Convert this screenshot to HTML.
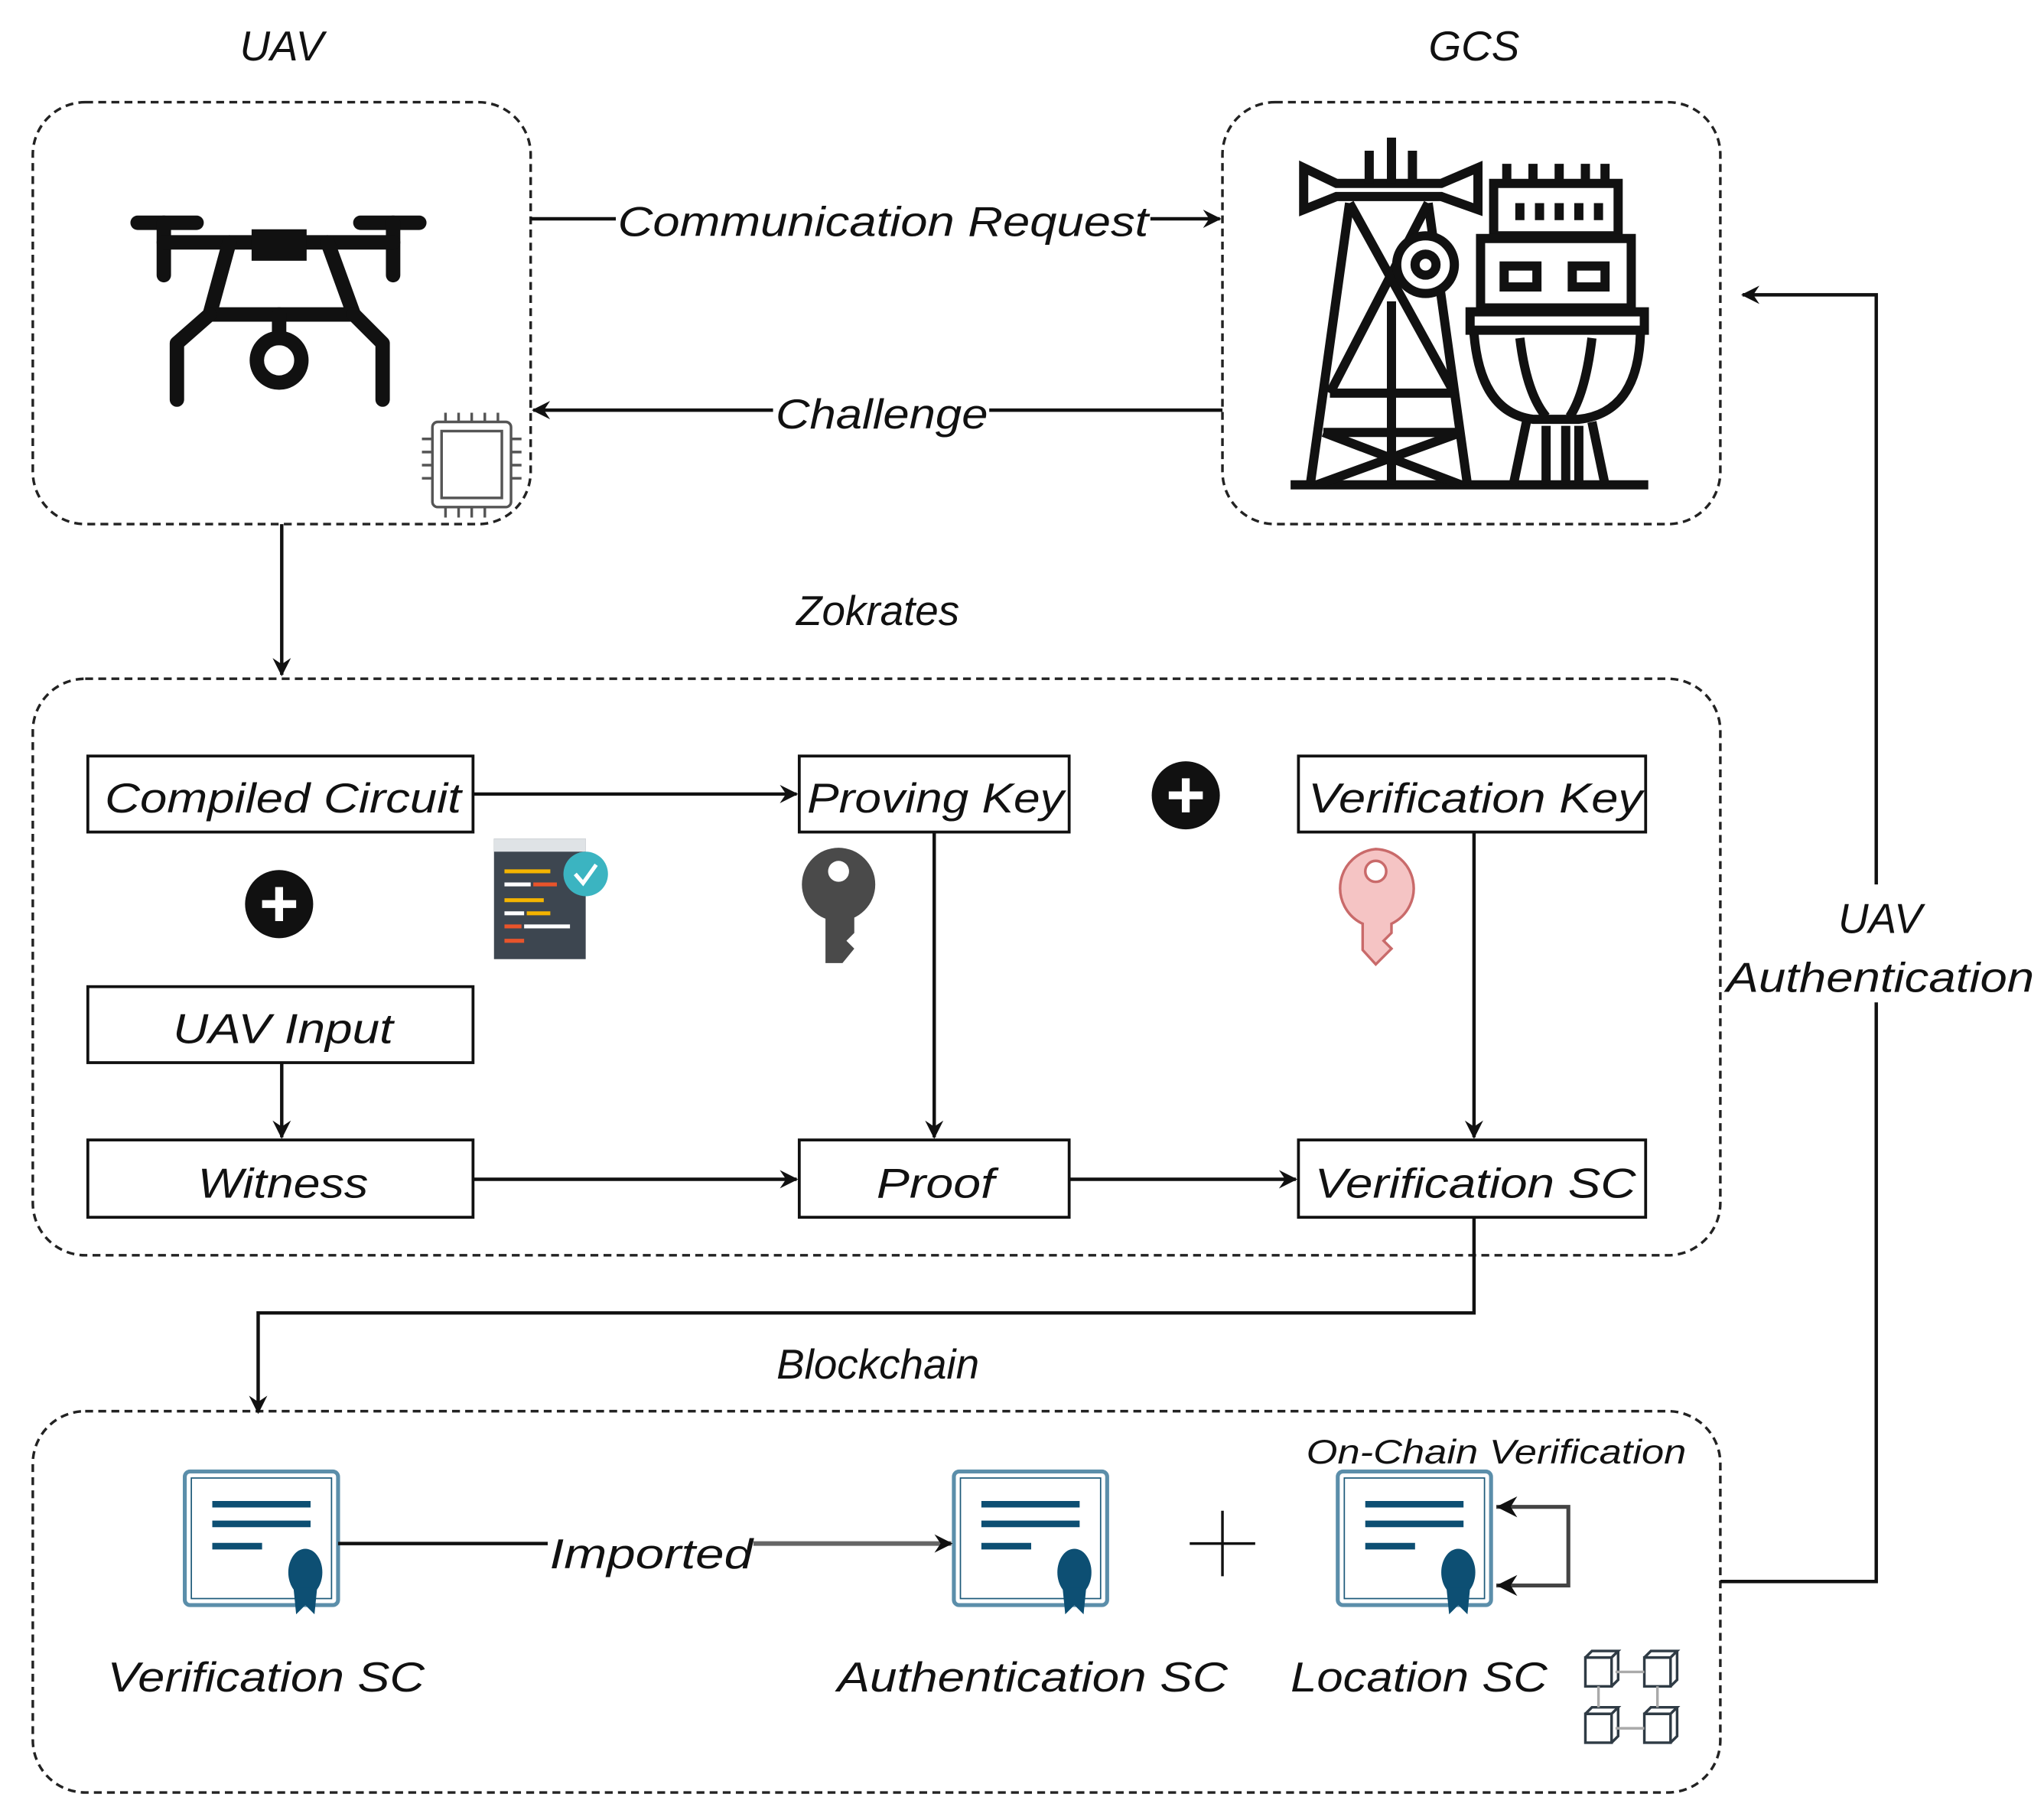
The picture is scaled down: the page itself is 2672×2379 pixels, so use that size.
<!DOCTYPE html>
<html><head><meta charset="utf-8"><style>
html,body{margin:0;padding:0;background:#fff}
svg{display:block}
text{font-family:"Liberation Sans",sans-serif;font-style:italic;fill:#111}
</style></head><body>
<svg width="2672" height="2379" viewBox="0 0 1560 1389" xmlns="http://www.w3.org/2000/svg">
<defs>
<marker id="a" viewBox="0 0 12 12" refX="11" refY="6" markerWidth="14" markerHeight="14" markerUnits="userSpaceOnUse" orient="auto">
<path d="M0,0 L12,6 L0,12 L4,6 Z" fill="#111"/></marker>
</defs>
<g fill="none" stroke="#222" stroke-width="2" stroke-dasharray="6,4">
<rect x="25" y="78" width="380" height="322" rx="40"/>
<rect x="933" y="78" width="380" height="322" rx="40"/>
<rect x="25" y="518" width="1288" height="440" rx="40"/>
<rect x="25" y="1077" width="1288" height="291" rx="40"/>
</g>
<text x="215" y="46" font-size="32" text-anchor="middle">UAV</text>
<text x="1125" y="46" font-size="32" text-anchor="middle">GCS</text>
<text x="670" y="477" font-size="32" text-anchor="middle">Zokrates</text>
<text x="670" y="1052" font-size="32" text-anchor="middle">Blockchain</text>

<!-- drone -->
<g fill="none" stroke="#111" stroke-width="11" stroke-linecap="round" stroke-linejoin="round">
<path d="M105,170 H150 M275,170 H320"/>
<path d="M125,170 V210 M300,170 V210"/>
<path d="M125,185 L175,185 L250,185 L300,185"/>
<path d="M175,185 L160,240 L270,240 L250,185"/>
<path d="M160,240 L135,262 V305 M270,240 L292,262 V305"/>
<circle cx="213" cy="275" r="17"/>
<path d="M213,240 V258"/>
</g>
<rect x="192" y="175" width="42" height="24" fill="#111"/>
<!-- chip -->
<g fill="none" stroke="#555" stroke-width="2">
<rect x="330" y="322" width="60" height="65" rx="4"/>
<rect x="337" y="329" width="46" height="51"/>
<path d="M340,315 V322 M350,315 V322 M360,315 V322 M370,315 V322 M380,315 V322 M340,387 V395 M350,387 V395 M360,387 V395 M370,387 V395 M322,335 H330 M322,345 H330 M322,355 H330 M322,365 H330 M390,335 H398 M390,345 H398 M390,355 H398 M390,365 H398"/>
</g>
<!-- GCS tower -->
<g fill="none" stroke="#111" stroke-width="7" stroke-linejoin="miter">
<path d="M985,370 H1258"/>
<path d="M995,128 L1020,140 H1100 L1128,128 V160 L1100,150 H1020 L995,160 Z"/>
<path d="M1062,105 V140 M1045,115 V140 M1078,115 V140"/>
<path d="M1030,155 L1000,370 M1090,155 L1120,370"/>
<path d="M1030,155 L1110,300 M1090,155 L1015,300 M1015,300 H1110 M1010,330 L1115,370 M1115,330 L1005,370 M1010,330 H1115 M1062,230 V370"/>
<circle cx="1088" cy="202" r="22" fill="#fff"/>
<circle cx="1088" cy="202" r="8"/>
<path d="M1140,140 H1235 V180 H1140 Z M1150,125 V140 M1170,125 V140 M1190,125 V140 M1210,125 V140 M1225,125 V140"/>
<path d="M1160,155 V168 M1175,155 V168 M1190,155 V168 M1205,155 V168 M1220,155 V168"/>
<path d="M1130,182 H1245 V235 H1130 Z"/>
<rect x="1148" y="203" width="25" height="16"/><rect x="1200" y="203" width="25" height="16"/>
<path d="M1122,238 H1255 V252 H1122 Z"/>
<path d="M1125,255 Q1130,315 1170,320 H1205 Q1250,315 1252,255"/>
<path d="M1160,258 Q1165,300 1180,318 M1215,258 Q1210,300 1198,318"/>
<path d="M1165,322 L1155,370 M1215,322 L1225,370 M1180,325 V370 M1195,325 V370 M1205,325 V370"/>
</g>

<!-- top arrows -->
<g stroke="#111" stroke-width="2.6" fill="none">
<path d="M405,167 H470"/>
<path d="M878,167 H931" marker-end="url(#a)"/>
<path d="M933,313 H755"/>
<path d="M590,313 H407" marker-end="url(#a)"/>
<path d="M215,400 V515" marker-end="url(#a)"/>
</g>
<text x="674" y="180" font-size="32" text-anchor="middle" textLength="405" lengthAdjust="spacingAndGlyphs">Communication Request</text>
<text x="673" y="327" font-size="32" text-anchor="middle" textLength="162" lengthAdjust="spacingAndGlyphs">Challenge</text>

<!-- Zokrates boxes -->
<g fill="#fff" stroke="#111" stroke-width="2.2">
<rect x="67" y="577" width="294" height="58"/>
<rect x="610" y="577" width="206" height="58"/>
<rect x="991" y="577" width="265" height="58"/>
<rect x="67" y="753" width="294" height="58"/>
<rect x="67" y="870" width="294" height="59"/>
<rect x="610" y="870" width="206" height="59"/>
<rect x="991" y="870" width="265" height="59"/>
</g>
<g font-size="32" text-anchor="middle">
<text x="216" y="620" textLength="272" lengthAdjust="spacingAndGlyphs">Compiled Circuit</text>
<text x="714" y="620" textLength="196" lengthAdjust="spacingAndGlyphs">Proving Key</text>
<text x="1126" y="620" textLength="255" lengthAdjust="spacingAndGlyphs">Verification Key</text>
<text x="216" y="796" textLength="168" lengthAdjust="spacingAndGlyphs">UAV Input</text>
<text x="216" y="914" textLength="130" lengthAdjust="spacingAndGlyphs">Witness</text>
<text x="714" y="914" textLength="90" lengthAdjust="spacingAndGlyphs">Proof</text>
<text x="1126" y="914" textLength="245" lengthAdjust="spacingAndGlyphs">Verification SC</text>
</g>
<g stroke="#111" stroke-width="2.6" fill="none">
<path d="M361,606 H608" marker-end="url(#a)"/>
<path d="M215,811 V868" marker-end="url(#a)"/>
<path d="M713,635 V868" marker-end="url(#a)"/>
<path d="M1125,635 V868" marker-end="url(#a)"/>
<path d="M361,900 H608" marker-end="url(#a)"/>
<path d="M816,900 H989" marker-end="url(#a)"/>
<path d="M1125,929 V1002 H197 V1078" marker-end="url(#a)"/>
</g>
<!-- plus circles -->
<g>
<circle cx="213" cy="690" r="26" fill="#111"/><path d="M200,690 H226 M213,677 V703" stroke="#fff" stroke-width="6"/>
<circle cx="905" cy="607" r="26" fill="#111"/><path d="M892,607 H918 M905,594 V620" stroke="#fff" stroke-width="6"/>
</g>
<!-- code icon -->
<rect x="377" y="640" width="70" height="92" fill="#3d4650"/>
<rect x="377" y="640" width="70" height="10" fill="#dfe3e6"/>
<g stroke-width="3">
<path d="M385,665 H420" stroke="#f4b400"/><path d="M385,675 H405" stroke="#fff"/><path d="M407,675 H425" stroke="#e8542b"/>
<path d="M385,687 H415" stroke="#f4b400"/><path d="M385,697 H400" stroke="#fff"/><path d="M402,697 H420" stroke="#f4b400"/>
<path d="M385,707 H398" stroke="#e8542b"/><path d="M400,707 H435" stroke="#fff"/><path d="M385,718 H400" stroke="#e8542b"/>
</g>
<circle cx="447" cy="667" r="17" fill="#3bb4c1"/><path d="M439,667 L445,674 L455,660" stroke="#fff" stroke-width="3" fill="none"/>
<!-- keys -->
<g fill="#4a4a4a"><circle cx="640" cy="675" r="28"/><path d="M630,695 H652 V712 L646,718 L652,724 L643,735 H630 Z"/></g>
<circle cx="640" cy="665" r="8" fill="#fff"/>
<g fill="#f5c4c4" stroke="#c96a6a" stroke-width="2"><path d="M1050,648 A30,30 0 0 1 1062,705 V712 L1056,718 L1062,724 L1050,736 L1040,725 V705 A30,30 0 0 1 1050,648 Z"/></g>
<circle cx="1050" cy="665" r="8" fill="#fff" stroke="#c96a6a" stroke-width="2"/>

<!-- certificates -->
<g id="cert">
<rect x="141" y="1123" width="117" height="102" rx="4" fill="#fff" stroke="#5b8eaa" stroke-width="3"/>
<rect x="146" y="1128" width="107" height="92" fill="none" stroke="#1d5a7a" stroke-width="1"/>
<path d="M162,1148 H237 M162,1163 H237 M162,1180 H200" stroke="#0d4f73" stroke-width="5"/>
<ellipse cx="233" cy="1200" rx="13" ry="18" fill="#0d4f73"/>
<path d="M224,1212 L226,1232 L233,1225 L240,1232 L242,1212 Z" fill="#0d4f73"/>
</g>
<use href="#cert" x="587"/>
<use href="#cert" x="880"/>
<g stroke="#111" stroke-width="2.6" fill="none">
<path d="M258,1178 H418"/>
<path d="M575,1178 H726" stroke="#666" stroke-width="3.5" marker-end="url(#a)"/>
<path d="M908,1178 H958 M933,1153 V1203" stroke-width="2"/>
<path d="M1142,1150 H1197 V1210 H1142" stroke="#444" stroke-width="3"/>
</g>
<path d="M1142,1150 L1158,1142 L1153,1150 L1158,1158 Z M1142,1210 L1158,1202 L1153,1210 L1158,1218 Z" fill="#111"/>
<text x="497" y="1197" font-size="32" text-anchor="middle" textLength="155" lengthAdjust="spacingAndGlyphs">Imported</text>
<text x="1142" y="1117" font-size="26" text-anchor="middle" textLength="290" lengthAdjust="spacingAndGlyphs">On-Chain Verification</text>
<g font-size="32" text-anchor="middle">
<text x="203" y="1291" textLength="242" lengthAdjust="spacingAndGlyphs">Verification SC</text>
<text x="788" y="1291" textLength="298" lengthAdjust="spacingAndGlyphs">Authentication SC</text>
<text x="1083" y="1291" textLength="196" lengthAdjust="spacingAndGlyphs">Location SC</text>
</g>
<!-- blockchain cubes -->
<g fill="none" stroke="#2f3b45" stroke-width="2">
<path d="M1210,1265 h20 v22 h-20 z M1210,1265 l5,-5 h20 l-5,5 M1230,1287 l5,-5 v-22"/>
<path d="M1255,1265 h20 v22 h-20 z M1255,1265 l5,-5 h20 l-5,5 M1275,1287 l5,-5 v-22"/>
<path d="M1210,1308 h20 v22 h-20 z M1210,1308 l5,-5 h20 l-5,5 M1230,1330 l5,-5 v-22"/>
<path d="M1255,1308 h20 v22 h-20 z M1255,1308 l5,-5 h20 l-5,5 M1275,1330 l5,-5 v-22"/>
</g>
<path d="M1233,1276 H1255 M1233,1319 H1255 M1220,1287 V1303 M1265,1287 V1303" stroke="#aaa" stroke-width="2"/>

<!-- right feedback -->
<g stroke="#111" stroke-width="2.6" fill="none">
<path d="M1313,1207 H1432 V225 H1330" marker-end="url(#a)"/>
</g>
<rect x="1318" y="675" width="232" height="90" fill="#fff"/>
<text x="1435" y="712" font-size="32" text-anchor="middle">UAV</text>
<text x="1435" y="757" font-size="32" text-anchor="middle" textLength="235" lengthAdjust="spacingAndGlyphs">Authentication</text>
</svg>
</body></html>
